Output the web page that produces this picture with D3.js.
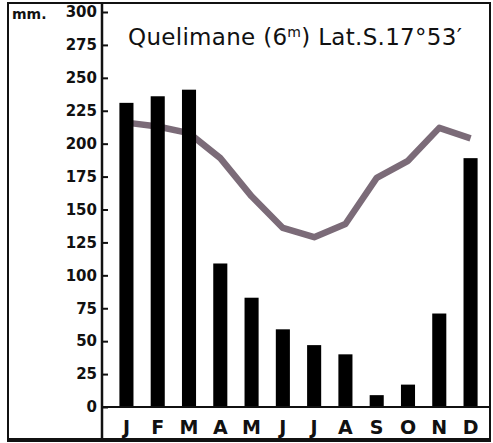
<html>
<script src="https://d3js.org/d3.v7.min.js"></script>
<style>
body { margin: 0; background: #fff; }
svg text { font-family: "DejaVu Sans", sans-serif; fill: #111; }
.yax text { font-size: 15px; font-weight: bold; }
.xax text { font-size: 19px; font-weight: bold; }
</style>
<body>
<svg width="493" height="443"></svg>
<script>
// monthly rainfall (mm) and the grey curve
var months = ["J", "F", "M", "A", "M", "J", "J", "A", "S", "O", "N", "D"];
var rain = [231, 236, 241, 109, 83, 59, 47, 40, 9, 17, 71, 189];
var curve = [216, 213, 208, 189, 160, 136, 129, 139, 174, 187, 212, 204];
var yTicks = [0, 25, 50, 75, 100, 125, 150, 175, 200, 225, 250, 275, 300];

var svg = d3.select("svg");

var y = d3.scaleLinear()
    .domain([0, 300])
    .range([407, 12]);

var x = d3.scaleBand()
    .domain(d3.range(12))
    .range([110.8, 486.2])
    .paddingInner(0.55)
    .paddingOuter(0.275);

// frame
svg.append("rect")
    .attr("x", 8).attr("y", 3)
    .attr("width", 482).attr("height", 436)
    .attr("fill", "none")
    .attr("stroke", "#111")
    .attr("stroke-width", 2);
svg.append("line")
    .attr("x1", 7).attr("x2", 491)
    .attr("y1", 440).attr("y2", 440)
    .attr("stroke", "#111").attr("stroke-width", 4);

// curve (drawn under the bars)
var line = d3.line()
    .x(function (d, i) { return x(i) + x.bandwidth() / 2; })
    .y(function (d) { return y(d); });

svg.append("path")
    .datum(curve)
    .attr("d", line)
    .attr("fill", "none")
    .attr("stroke", "#7b6b78")
    .attr("stroke-width", 6.5)
    .attr("stroke-linejoin", "round");

// bars
svg.append("g")
  .selectAll("rect")
  .data(rain)
  .enter()
  .append("rect")
    .attr("x", function (d, i) { return x(i); })
    .attr("y", function (d) { return y(d); })
    .attr("width", x.bandwidth())
    .attr("height", function (d) { return y(0) - y(d); })
    .attr("fill", "#000");

// y axis
svg.append("g")
  .attr("class", "yax")
  .attr("transform", "translate(102,0)")
  .call(d3.axisLeft(y).tickValues(yTicks).tickSizeInner(-6).tickSizeOuter(0).tickPadding(5))
  .call(g => g.select(".domain").remove())
  .call(g => g.selectAll(".tick line").attr("stroke", "#111").attr("stroke-width", 2));

svg.append("line")
    .attr("x1", 102).attr("x2", 102)
    .attr("y1", 4).attr("y2", 440)
    .attr("stroke", "#111").attr("stroke-width", 2.5);

// x axis
svg.append("g")
  .attr("class", "xax")
  .attr("transform", "translate(0,407)")
  .call(d3.axisBottom(x).tickSize(0).tickPadding(13.5).tickFormat(function (i) { return months[i]; }))
  .call(g => g.select(".domain").remove());

svg.append("line")
    .attr("x1", 102).attr("x2", 490)
    .attr("y1", 407).attr("y2", 407)
    .attr("stroke", "#111").attr("stroke-width", 2);

// labels
svg.append("text")
    .attr("x", 12).attr("y", 19)
    .attr("font-size", 14).attr("font-weight", "bold")
    .text("mm.");

var title = svg.append("text")
    .attr("x", 128).attr("y", 45)
    .attr("font-size", 23)
    .attr("letter-spacing", 0.3);
title.append("tspan").text("Quelimane (6");
title.append("tspan").attr("dy", -8).attr("font-size", 14).text("m");
title.append("tspan").attr("dy", 8).text(") Lat.S.17°53′");
</script>
</body>
</html>
